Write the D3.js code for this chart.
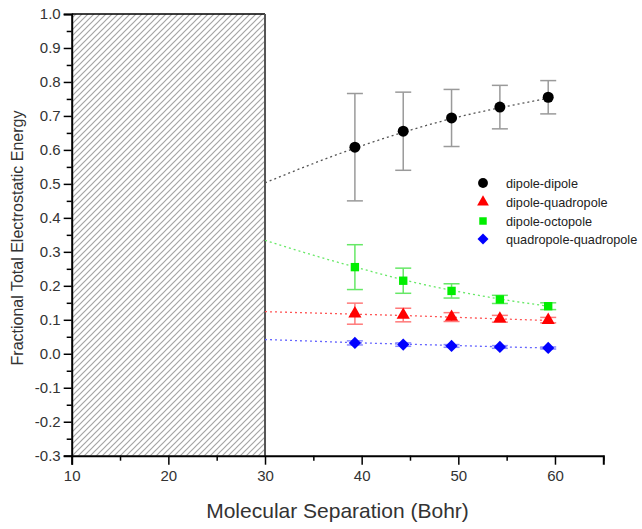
<!DOCTYPE html>
<html>
<head>
<meta charset="utf-8">
<script src="https://cdn.jsdelivr.net/npm/d3@7"></script>
<style>
  html, body { margin: 0; padding: 0; background: #fff; }
  svg text { font-family: "Liberation Sans", Arial, sans-serif; }
</style>
</head>
<body>
<div id="chart"></div>
<script>
// separations (Bohr) where the simulations were run
const separations = [39.3, 44.3, 49.3, 54.3, 59.3];

// fractional energies and their error bars
const dipoleDipole = [0.608, 0.655, 0.694, 0.726, 0.755];
const dipoleDipoleErr = [0.158, 0.115, 0.084, 0.064, 0.049];
const dipoleQuad = [0.118, 0.114, 0.108, 0.103, 0.099];
const dipoleQuadErr = [0.031, 0.020, 0.013, 0.010, 0.008];
const dipoleOct = [0.255, 0.215, 0.185, 0.160, 0.140];
const dipoleOctErr = [0.066, 0.037, 0.021, 0.012, 0.010];
const quadQuad = [0.032, 0.027, 0.023, 0.020, 0.017];
const quadQuadErr = [0.006, 0.005, 0.004, 0.004, 0.003];

// dotted fit curves
const fitX = [30, 35, 40, 45, 50, 55, 59.3];
const fitDipoleDipole = [0.503, 0.56, 0.612, 0.658, 0.697, 0.728, 0.752];
const fitDipoleQuad = [0.124, 0.120, 0.116, 0.112, 0.107, 0.102, 0.098];
const fitDipoleOct = [0.334, 0.29, 0.25, 0.213, 0.183, 0.158, 0.140];
const fitQuadQuad = [0.042, 0.037, 0.032, 0.028, 0.024, 0.020, 0.017];

const seriesNames = ["dipole-dipole", "dipole-quadropole", "dipole-octopole", "quadropole-quadropole"];

const xMajor = [10, 20, 30, 40, 50, 60];
const xMinor = [15, 25, 35, 45, 55, 65];
const yMajor = [-0.3, -0.2, -0.1, 0.0, 0.1, 0.2, 0.3, 0.4, 0.5, 0.6, 0.7, 0.8, 0.9, 1.0];
const yMinor = [-0.25, -0.15, -0.05, 0.05, 0.15, 0.25, 0.35, 0.45, 0.55, 0.65, 0.75, 0.85, 0.95];

const width = 642, height = 529;

// diamond drawn as a square turned by 45 degrees
const symbolDiamondWide = {
  draw(ctx, size) {
    const r = Math.sqrt(size / 2);
    ctx.moveTo(0, -r);
    ctx.lineTo(r, 0);
    ctx.lineTo(0, r);
    ctx.lineTo(-r, 0);
    ctx.closePath();
  }
};

const series = [
  {name: seriesNames[0], y: dipoleDipole, err: dipoleDipoleErr, fit: fitDipoleDipole,
   color: "#000000", errColor: "#9a9a9a", fitColor: "#555555", symbol: d3.symbolCircle, size: 95},
  {name: seriesNames[1], y: dipoleQuad, err: dipoleQuadErr, fit: fitDipoleQuad,
   color: "#ff0000", errColor: "#ff7a7a", fitColor: "#ff5555", symbol: d3.symbolTriangle, size: 75},
  {name: seriesNames[2], y: dipoleOct, err: dipoleOctErr, fit: fitDipoleOct,
   color: "#00ee00", errColor: "#66e866", fitColor: "#66e866", symbol: d3.symbolSquare, size: 70},
  {name: seriesNames[3], y: quadQuad, err: quadQuadErr, fit: fitQuadQuad,
   color: "#0000ff", errColor: "#8a8aff", fitColor: "#6666ff", symbol: symbolDiamondWide, size: 75}
];

const x = d3.scaleLinear().domain([10, 65]).range([71.7, 603.3]);
const y = d3.scaleLinear().domain([-0.3, 1.0]).range([455.7, 14]);

const svg = d3.select('#chart').append('svg')
    .attr('width', width)
    .attr('height', height);

// hatch pattern for the excluded region
const defs = svg.append('defs');
const pat = defs.append('pattern')
    .attr('id', 'hatch')
    .attr('patternUnits', 'userSpaceOnUse')
    .attr('width', 6)
    .attr('height', 6);
pat.append('path')
    .attr('d', 'M-1,1 l2,-2 M0,6 l6,-6 M5,7 l2,-2')
    .attr('stroke', '#a4a4a4')
    .attr('stroke-width', 1.2);

svg.append('rect')
    .attr('x', x(10))
    .attr('y', y(1.0))
    .attr('width', x(30) - x(10))
    .attr('height', y(-0.3) - y(1.0))
    .attr('fill', 'url(#hatch)');
svg.append('line')
    .attr('x1', x(10)).attr('x2', x(30))
    .attr('y1', y(1.0)).attr('y2', y(1.0))
    .attr('stroke', '#000').attr('stroke-width', 1.5);
svg.append('line')
    .attr('x1', x(30)).attr('x2', x(30))
    .attr('y1', y(1.0)).attr('y2', y(-0.3))
    .attr('stroke', '#555').attr('stroke-width', 2);

// axes
const fmt = d => d.toFixed(1);

svg.append('g')
    .attr('transform', `translate(${x(10)},0)`)
    .call(d3.axisLeft(y).tickValues(yMajor).tickFormat(fmt).tickSize(8).tickPadding(3));
svg.append('g')
    .attr('transform', `translate(${x(10)},0)`)
    .call(d3.axisLeft(y).tickValues(yMinor).tickFormat('').tickSize(5))
    .select('.domain').remove();

svg.append('g')
    .attr('transform', `translate(0,${y(-0.3)})`)
    .call(d3.axisBottom(x).tickValues(xMajor).tickFormat(d3.format('d')).tickSize(9).tickPadding(6));
svg.append('g')
    .attr('transform', `translate(0,${y(-0.3)})`)
    .call(d3.axisBottom(x).tickValues(xMinor).tickFormat('').tickSize(5))
    .select('.domain').remove();

svg.selectAll('.domain').attr('stroke', '#000').attr('stroke-width', 2);
svg.selectAll('.tick line').attr('stroke', '#000').attr('stroke-width', 1.5);
svg.selectAll('.tick text')
    .attr('font-size', 15)
    .attr('fill', '#333');

// axis titles
svg.append('text')
    .attr('x', (x(10) + x(65)) / 2)
    .attr('y', 518)
    .attr('text-anchor', 'middle')
    .attr('font-size', 21)
    .attr('fill', '#333')
    .text('Molecular Separation (Bohr)');

svg.append('text')
    .attr('transform', `translate(23,238) rotate(-90)`)
    .attr('text-anchor', 'middle')
    .attr('font-size', 16)
    .attr('fill', '#333')
    .text('Fractional Total Electrostatic Energy');

// fit curves
const fitLine = d3.line()
    .x((d, i) => x(fitX[i]))
    .y(d => y(d))
    .curve(d3.curveMonotoneX);

series.forEach(s => {
  svg.append('path')
      .datum(s.fit)
      .attr('d', fitLine)
      .attr('fill', 'none')
      .attr('stroke', s.fitColor)
      .attr('stroke-width', 1.3)
      .attr('stroke-dasharray', '2,3');
});

// error bars and markers
series.forEach(s => {
  const g = svg.append('g');
  s.y.forEach((v, i) => {
    const cx = x(separations[i]);
    const top = y(v + s.err[i]);
    const bot = y(v - s.err[i]);
    g.append('line')
        .attr('x1', cx).attr('x2', cx).attr('y1', top).attr('y2', bot)
        .attr('stroke', s.errColor).attr('stroke-width', 1.5);
    [top, bot].forEach(yy => {
      g.append('line')
          .attr('x1', cx - 8).attr('x2', cx + 8).attr('y1', yy).attr('y2', yy)
          .attr('stroke', s.errColor).attr('stroke-width', 1.5);
    });
  });
  g.selectAll('path.marker')
      .data(s.y)
      .join('path')
      .attr('class', 'marker')
      .attr('transform', (d, i) => `translate(${x(separations[i])},${y(d)})`)
      .attr('d', d3.symbol().type(s.symbol).size(s.size))
      .attr('fill', s.color);
});

// legend
const legendRows = [183, 202, 221, 239];
series.forEach((s, i) => {
  svg.append('path')
      .attr('transform', `translate(483,${legendRows[i]})`)
      .attr('d', d3.symbol().type(s.symbol).size(s.size * 0.8))
      .attr('fill', s.color);
  svg.append('text')
      .attr('x', 506)
      .attr('y', legendRows[i] + 4.5)
      .attr('font-size', 12.7)
      .attr('fill', '#222')
      .text(s.name);
});
</script>
</body>
</html>
